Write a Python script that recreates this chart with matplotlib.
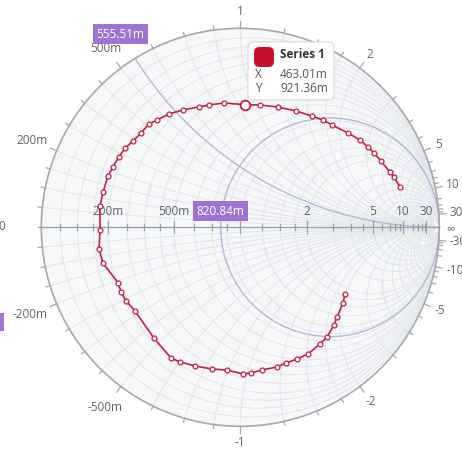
import numpy as np
import matplotlib.pyplot as plt
from matplotlib.patches import Circle, Rectangle, FancyBboxPatch

plt.rcParams['font.family'] = ['Open Sans', 'DejaVu Sans']

# ---------------- Data ---------------- #
# normalised impedance of Series 1: resistance (real part) and reactance (imaginary part)
resistance = [3.936, 2.935, 2.575, 1.977, 1.656, 1.461, 1.269, 1.109, 0.943, 0.849,
              0.772, 0.674, 0.586, 0.515, 0.46301, 0.386, 0.348, 0.324, 0.284, 0.252,
              0.232, 0.217, 0.213, 0.204, 0.191, 0.185, 0.179, 0.173, 0.171, 0.168,
              0.173, 0.165, 0.170, 0.203, 0.201, 0.204, 0.216, 0.212, 0.199, 0.209,
              0.232, 0.261, 0.291, 0.301, 0.322, 0.362, 0.409, 0.456, 0.506, 0.570,
              0.705, 0.814, 1.031, 1.199, 1.554, 1.813]
reactance = [5.062, 4.369, 4.010, 3.385, 3.022, 2.771, 2.498, 2.178, 1.853, 1.706,
             1.549, 1.359, 1.183, 1.033, 0.92136, 0.800, 0.716, 0.663, 0.588, 0.525,
             0.468, 0.433, 0.383, 0.339, 0.300, 0.260, 0.218, 0.182, 0.123, 0.073,
             -0.009, -0.074, -0.124, -0.208, -0.244, -0.283, -0.334, -0.470, -0.584, -0.628,
             -0.699, -0.786, -0.868, -0.972, -1.023, -1.096, -1.212, -1.289, -1.394, -1.515,
             -1.668, -1.772, -1.885, -1.929, -2.008, -1.990]
hover_index = 14

# cursor position (crosshair)
cursor_r = 0.82084
cursor_x = 0.55551

# grid values and labels
grid_values = [0.05, 0.1, 0.15, 0.2, 0.275, 0.35, 0.425, 0.5, 0.625, 0.75, 0.875, 1,
               1.25, 1.5, 1.75, 2, 2.75, 3.5, 4.25, 5, 6, 7, 8, 9, 10, 14, 18, 22, 26, 30]
major_values = [0.2, 0.5, 1, 2, 5, 10, 30]
major_labels = ["200m", "500m", "1", "2", "5", "10", "30"]

# ---------------- Helpers ---------------- #
W, H = 462, 450
CX, CY, R = 240.3, 227.3, 199.0
PX = 1 / R   # one pixel in chart units


def gamma(r, x):
    z = np.asarray(r) + 1j * np.asarray(x)
    g = (z - 1) / (z + 1)
    return g.real, g.imag


def fx(p):
    return p / W


def fy(p):
    return 1 - p / H


def fmt(v):
    return f"{v * 1000:.2f}m"


# ---------------- Figure ---------------- #
fig = plt.figure(figsize=(W / 100, H / 100), dpi=100)
ax = fig.add_axes([0, 0, 1, 1])
ax.set_xlim(-CX / R, (W - CX) / R)
ax.set_ylim(-(H - CY) / R, CY / R)
ax.axis('off')
renderer = fig.canvas.get_renderer()

grid_col = '#e2e5e9'
axis_col = '#9ea3a8'
lab_col = '#5f6368'
cross_col = '#b8b6db'
tag_col = '#9d74cf'
series_col = '#c4213f'
fs = 8.5

unit = Circle((0, 0), 1, fc='#f5f7f9', ec='none', zorder=0)
ax.add_patch(unit)

# constant resistance circles and constant reactance arcs
for r in grid_values:
    ax.add_patch(Circle((r / (1 + r), 0), 1 / (1 + r), fill=False, ec=grid_col, lw=0.7, zorder=1))
for x in grid_values:
    for s in (1, -1):
        arc = Circle((1, s / x), 1 / x, fill=False, ec=grid_col, lw=0.7, zorder=1)
        arc.set_clip_path(unit)
        ax.add_patch(arc)

# crosshair through the cursor
ax.add_patch(Circle((cursor_r / (1 + cursor_r), 0), 1 / (1 + cursor_r),
                    fill=False, ec=cross_col, lw=1, zorder=2))
arc = Circle((1, 1 / cursor_x), 1 / cursor_x, fill=False, ec=cross_col, lw=1, zorder=2)
arc.set_clip_path(unit)
ax.add_patch(arc)

# outer circle, real axis and ticks
ax.add_patch(Circle((0, 0), 1, fill=False, ec='#a5a9ad', lw=1.2, zorder=3))
ax.plot([-1.015, 1.0], [0, 0], color=axis_col, lw=1, zorder=3)
for r in grid_values:
    gx, _ = gamma(r, 0)
    t = 6 if r in major_values else 3
    ax.plot([gx, gx], [-t * PX, t * PX], color=axis_col, lw=0.9, zorder=3)
for x in grid_values:
    for s in (1, -1):
        gx, gy = gamma(0, s * x)
        t = 7 if x in major_values else 4
        ax.plot([gx, gx * (1 + t * PX)], [gy, gy * (1 + t * PX)], color='#a5a9ad', lw=0.9, zorder=3)

# resistance labels above the axis (the "1" sits under the cursor tag)
for r, lab in zip(major_values, major_labels):
    if r == 1:
        continue
    gx, _ = gamma(r, 0)
    ax.text(gx, 16 * PX, lab, ha='center', va='center', fontsize=fs, color=lab_col, zorder=4)


def outer_label(x, lab, **kw):
    gx, gy = gamma(0, x)
    t = ax.text(0, 0, lab, ha='center', va='center', **kw)
    bb = t.get_window_extent(renderer)
    off = 10 + abs(gx) * bb.width / 2 + abs(gy) * bb.height / 2
    t.set_position((gx * (1 + off * PX), gy * (1 + off * PX)))
    return t


# reactance labels round the circle
for x, lab in zip(major_values, major_labels):
    outer_label(x, lab, fontsize=fs, color=lab_col, zorder=4)
    outer_label(-x, '-' + lab, fontsize=fs, color=lab_col, zorder=4)
ax.text(fx(2), fy(227), '0', transform=ax.transAxes, ha='center', va='center', fontsize=fs, color=lab_col)
ax.text(fx(450), fy(229), '∞', transform=ax.transAxes, ha='center', va='center', fontsize=fs, color=lab_col)

# crosshair tags
tag_box = dict(boxstyle='square,pad=0.3', fc=tag_col, ec='none')
gx, _ = gamma(cursor_r, 0)
ax.text(gx, 16 * PX, fmt(cursor_r), ha='center', va='center', fontsize=fs, color='white',
        bbox=tag_box, zorder=8)
outer_label(cursor_x, fmt(cursor_x), fontsize=fs, color='white', bbox=tag_box, zorder=8)
ax.add_patch(Rectangle((fx(-20), fy(331)), 24 / W, 18 / H, transform=ax.transAxes,
                       fc=tag_col, ec='none', zorder=8))

# series
sx, sy = gamma(resistance, reactance)
ax.plot(sx, sy, color=series_col, lw=1.2, marker='o', ms=3.5, mfc='white', mec=series_col,
        mew=0.9, zorder=5)
hx, hy = gamma(resistance[hover_index], reactance[hover_index])
ax.plot(hx, hy, 'o', ms=7, mfc='white', mec=series_col, mew=1.3, zorder=6)

# tooltip
ax.add_patch(FancyBboxPatch((fx(248), fy(100)), 86 / W, 58 / H, transform=ax.transAxes,
                            boxstyle='round,pad=0,rounding_size=0.012',
                            fc='white', ec='#dadada', lw=0.8, zorder=9))
ax.add_patch(FancyBboxPatch((fx(254), fy(67)), 20 / W, 20 / H, transform=ax.transAxes,
                            boxstyle='round,pad=0,rounding_size=0.012',
                            fc='#c8102e', ec='none', zorder=10))
ax.text(fx(280), fy(55), 'Series 1', transform=ax.transAxes, ha='left', va='center',
        fontsize=fs, fontweight='bold', color='#333333', zorder=10)
ax.text(fx(255), fy(74), 'X', transform=ax.transAxes, ha='left', va='center',
        fontsize=fs, color='#555555', zorder=10)
ax.text(fx(280), fy(74), fmt(resistance[hover_index]), transform=ax.transAxes, ha='left', va='center',
        fontsize=fs, color='#555555', zorder=10)
ax.text(fx(255), fy(89), 'Y', transform=ax.transAxes, ha='left', va='center',
        fontsize=fs, color='#555555', zorder=10)
ax.text(fx(280), fy(89), fmt(reactance[hover_index]), transform=ax.transAxes, ha='left', va='center',
        fontsize=fs, color='#555555', zorder=10)

fig.savefig('out.png', dpi=100)
